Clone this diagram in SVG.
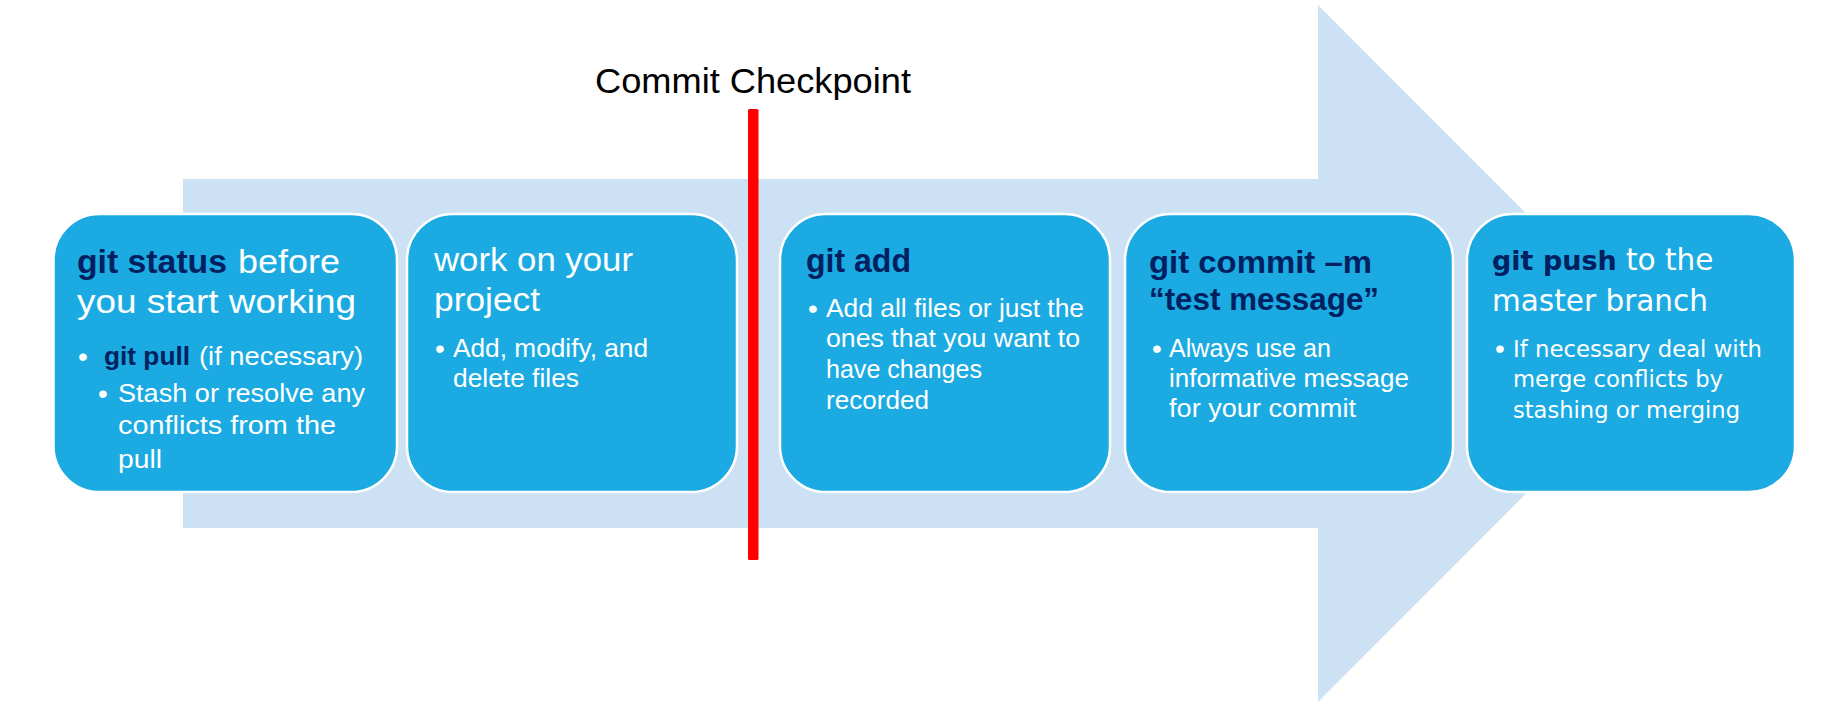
<svg xmlns="http://www.w3.org/2000/svg" width="1830" height="716" viewBox="0 0 1830 716">
<style>
.bx{fill:#1BABE2;stroke:#FFFFFF;stroke-width:2.5}
.t{font-family:"Liberation Sans",Arial,sans-serif;fill:#FFFFFF}
.v{font-family:"DejaVu Sans",Verdana,sans-serif;fill:#FFFFFF}
.h{font-size:34px}
.h2{font-size:32px}
.s{font-size:26px}
.vh{font-size:29.5px}
.vs{font-size:23px}
.b{font-weight:bold;fill:#002060}
.bul{font-size:28px;text-anchor:middle}
</style>
<rect x="0" y="0" width="1830" height="716" fill="#FFFFFF"/>
<g id="background-arrow">
<polygon points="183,179 1318,179 1318,5 1666,353.5 1318,702 1318,528 183,528" fill="#CCE1F4"/>
</g>
<g id="checkpoint">
<text x="595" y="93" font-family="Liberation Sans, Arial, sans-serif" font-size="35" fill="#000000" textLength="316" lengthAdjust="spacingAndGlyphs">Commit Checkpoint</text>
<rect x="748" y="109" width="10.5" height="451" rx="1.5" fill="#FF0000"/>
</g>
<g id="connectors"></g>
<g id="node-status">
<rect class="bx" x="53.5" y="214" width="343.5" height="278" rx="46" ry="46"/>
<text class="t h b" x="77" y="273" textLength="150" lengthAdjust="spacingAndGlyphs">git status</text>
<text class="t h" x="238" y="273" textLength="102" lengthAdjust="spacingAndGlyphs">before</text>
<text class="t h" x="77" y="313" textLength="279" lengthAdjust="spacingAndGlyphs">you start working</text>
<text class="t bul" x="83" y="366" font-size="32">•</text>
<text class="t s b" x="104" y="365" textLength="86" lengthAdjust="spacingAndGlyphs">git pull</text>
<text class="t s" x="199" y="365" textLength="164" lengthAdjust="spacingAndGlyphs">(if necessary)</text>
<text class="t bul" x="103" y="403">•</text>
<text class="t s" x="118" y="402" textLength="247" lengthAdjust="spacingAndGlyphs">Stash or resolve any</text>
<text class="t s" x="118" y="434" textLength="218" lengthAdjust="spacingAndGlyphs">conflicts from the</text>
<text class="t s" x="118" y="468" textLength="44" lengthAdjust="spacingAndGlyphs">pull</text>
</g>
<g id="node-work">
<rect class="bx" x="407" y="214" width="330" height="278" rx="46" ry="46"/>
<text class="t h" x="434" y="271" textLength="199" lengthAdjust="spacingAndGlyphs">work on your</text>
<text class="t h" x="434" y="311" textLength="106" lengthAdjust="spacingAndGlyphs">project</text>
<text class="t bul" x="440" y="358">•</text>
<text class="t s" x="453" y="357" textLength="195" lengthAdjust="spacingAndGlyphs">Add, modify, and</text>
<text class="t s" x="453" y="387" textLength="126" lengthAdjust="spacingAndGlyphs">delete files</text>
</g>
<g id="node-add">
<rect class="bx" x="780" y="214" width="330" height="278" rx="46" ry="46"/>
<text class="t h b" x="806" y="272" textLength="105" lengthAdjust="spacingAndGlyphs">git add</text>
<text class="t bul" x="813" y="318">•</text>
<text class="t s" x="826" y="317" textLength="258" lengthAdjust="spacingAndGlyphs">Add all files or just the</text>
<text class="t s" x="826" y="347" textLength="254" lengthAdjust="spacingAndGlyphs">ones that you want to</text>
<text class="t s" x="826" y="378" textLength="156" lengthAdjust="spacingAndGlyphs">have changes</text>
<text class="t s" x="826" y="409" textLength="103" lengthAdjust="spacingAndGlyphs">recorded</text>
</g>
<g id="node-commit">
<rect class="bx" x="1125" y="214" width="328" height="278" rx="46" ry="46"/>
<text class="t h2 b" x="1149" y="273" textLength="223" lengthAdjust="spacingAndGlyphs">git commit –m</text>
<text class="t h2 b" x="1149" y="310" textLength="230" lengthAdjust="spacingAndGlyphs">“test message”</text>
<text class="t bul" x="1157" y="358">•</text>
<text class="t s" x="1169" y="357" textLength="162" lengthAdjust="spacingAndGlyphs">Always use an</text>
<text class="t s" x="1169" y="387" textLength="240" lengthAdjust="spacingAndGlyphs">informative message</text>
<text class="t s" x="1169" y="417" textLength="187" lengthAdjust="spacingAndGlyphs">for your commit</text>
</g>
<g id="node-push">
<rect class="bx" x="1467" y="214" width="328" height="278" rx="46" ry="46"/>
<text class="v b" x="1492" y="270" font-size="27">git push</text>
<text class="v vh" x="1626" y="270">to the</text>
<text class="v vh" x="1492" y="311">master branch</text>
<text class="t bul" x="1500" y="358">•</text>
<text class="v vs" x="1513" y="357" textLength="249" lengthAdjust="spacingAndGlyphs">If necessary deal with</text>
<text class="v vs" x="1513" y="387" textLength="210" lengthAdjust="spacingAndGlyphs">merge conflicts by</text>
<text class="v vs" x="1513" y="418" textLength="227" lengthAdjust="spacingAndGlyphs">stashing or merging</text>
</g>
</svg>
